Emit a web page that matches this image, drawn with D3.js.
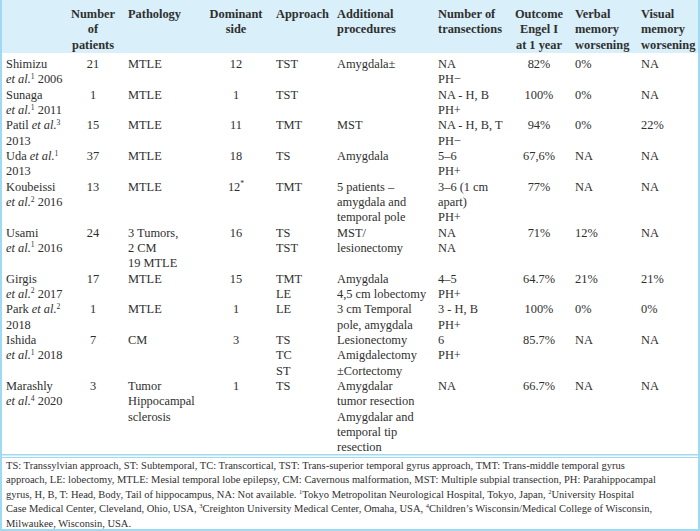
<!DOCTYPE html>
<html><head><meta charset="utf-8">
<script src="https://cdn.jsdelivr.net/npm/d3@7"></script>
<style>
html,body{margin:0;padding:0;background:#fff;}
svg{display:block;}
text{font-family:"Liberation Serif","Times New Roman",serif;fill:#2f2f2f;}
</style></head>
<body>
<svg id="chart" width="700" height="531"></svg>
<script>
// ---- data (markup: _italic_ , ^superscript^ , \n line break) ----
const headers = ["", "Number\nof\npatients", "Pathology", "Dominant\nside", "Approach",
  "Additional\nprocedures", "Number of\ntransections", "Outcome\nEngel I\nat 1 year",
  "Verbal\nmemory\nworsening", "Visual\nmemory\nworsening"];
const studies = ["Shimizu\n_et al._^1^ 2006", "Sunaga\n_et al._^1^ 2011", "Patil _et al._^3^\n2013",
  "Uda _et al._^1^\n2013", "Koubeissi\n_et al._^2^ 2016", "Usami\n_et al._^1^ 2016",
  "Girgis\n_et al._^2^ 2017", "Park _et al._^2^\n2018", "Ishida\n_et al._^1^ 2018", "Marashly\n_et al._^4^ 2020"];
const patients = ["21", "1", "15", "37", "13", "24", "17", "1", "7", "3"];
const pathology = ["MTLE", "MTLE", "MTLE", "MTLE", "MTLE", "3 Tumors,\n2 CM\n19 MTLE", "MTLE", "MTLE", "CM",
  "Tumor\nHippocampal\nsclerosis"];
const dominant = ["12", "1", "11", "18", "12^*^", "16", "15", "1", "3", "1"];
const approach = ["TST", "TST", "TMT", "TS", "TMT", "TS\nTST", "TMT\nLE", "LE", "TS\nTC\nST", "TS"];
const additional = ["Amygdala±", "", "MST", "Amygdala", "5 patients –\namygdala and\ntemporal pole",
  "MST/\nlesionectomy", "Amygdala\n4,5 cm lobectomy", "3 cm Temporal\npole, amygdala",
  "Lesionectomy\nAmigdalectomy\n±Cortectomy", "Amygdalar\ntumor resection\nAmygdalar and\ntemporal tip\nresection"];
const transections = ["NA\nPH−", "NA - H, B\nPH+", "NA - H, B, T\nPH−", "5–6\nPH+", "3–6 (1 cm\napart)\nPH+",
  "NA\nNA", "4–5\nPH+", "3 - H, B\nPH+", "6\nPH+", "NA"];
const engel = ["82%", "100%", "94%", "67,6%", "77%", "71%", "64.7%", "100%", "85.7%", "66.7%"];
const verbal = ["0%", "0%", "0%", "NA", "NA", "12%", "21%", "0%", "NA", "NA"];
const visual = ["NA", "NA", "22%", "NA", "NA", "NA", "21%", "0%", "NA", "NA"];
const footnote = [
  "TS: Transsylvian approach, ST: Subtemporal, TC: Transcortical, TST: Trans-superior temporal gyrus approach, TMT: Trans-middle temporal gyrus",
  "approach, LE: lobectomy, MTLE: Mesial temporal lobe epilepsy, CM: Cavernous malformation, MST: Multiple subpial transection, PH: Parahippocampal",
  "gyrus, H, B, T: Head, Body, Tail of hippocampus, NA: Not available. ^1^Tokyo Metropolitan Neurological Hospital, Tokyo, Japan, ^2^University Hospital",
  "Case Medical Center, Cleveland, Ohio, USA, ^3^Creighton University Medical Center, Omaha, USA, ^4^Children’s Wisconsin/Medical College of Wisconsin,",
  "Milwaukee, Wisconsin, USA."];

// ---- layout ----
const columns = [studies, patients, pathology, dominant, approach, additional, transections, engel, verbal, visual];
const colKeys = d3.range(columns.length);
const colX = d3.scaleOrdinal().domain(colKeys).range([6, 93, 128, 236, 276, 337, 438, 539, 575, 641]);
const colAnchor = d3.scaleOrdinal().domain(colKeys).range(["start","middle","start","middle","start","start","start","middle","start","start"]);

const FS = 12.4, LH = 15.33;
const svg = d3.select("#chart");
const W = 700, H = 531;
const BLUE = "#9fdaf2", HEAD = "#d9eff9";

// row line counts
const nRows = studies.length;
const rowLines = d3.range(nRows).map(r => d3.max(columns, c => c[r].split("\n").length));
const rowStart = [];
let acc = 0;
rowLines.forEach(n => { rowStart.push(acc); acc += n; });
const yLine = d3.scaleLinear().domain([0, 1]).range([68, 68 + LH]);
const yHead = d3.scaleLinear().domain([0, 1]).range([18, 33.3]);
const yFoot = d3.scaleLinear().domain([0, 1]).range([468.5, 483]);

// backgrounds & borders
svg.append("rect").attr("x", 0).attr("y", 0).attr("width", W).attr("height", 53).attr("fill", HEAD);
svg.append("rect").attr("x", 0).attr("y", 0).attr("width", 2).attr("height", H).attr("fill", BLUE);
svg.append("rect").attr("x", W - 2).attr("y", 0).attr("width", 2).attr("height", H).attr("fill", BLUE);
svg.append("rect").attr("x", 0).attr("y", 454).attr("width", W).attr("height", 1.5).attr("fill", BLUE);
svg.append("rect").attr("x", 0).attr("y", 457).attr("width", W).attr("height", 1).attr("fill", BLUE);
svg.append("rect").attr("x", 0).attr("y", H - 2).attr("width", W).attr("height", 2).attr("fill", BLUE);

function writeRich(sel, str, size) {
  const parts = str.split(/(_[^_]+_|\^[^^]+\^)/).filter(s => s.length);
  let up = false;
  parts.forEach(p => {
    const t = sel.append("tspan");
    if (p.startsWith("_")) { t.text(p.slice(1, -1)).attr("font-style", "italic"); if (up) { t.attr("dy", size * 0.36); up = false; } }
    else if (p.startsWith("^")) { t.text(p.slice(1, -1)).attr("font-size", size * 0.62).attr("dy", -size * 0.36); up = true; }
    else { t.text(p); if (up) { t.attr("dy", size * 0.36); up = false; } }
  });
}

// header
const hg = svg.append("g").attr("font-weight", "bold").attr("font-size", FS);
headers.forEach((h, c) => {
  h.split("\n").forEach((line, i) => {
    if (!line) return;
    hg.append("text").attr("x", colX(c)).attr("y", yHead(i)).attr("text-anchor", colAnchor(c)).text(line);
  });
});

// body
const bg = svg.append("g").attr("font-size", FS);
columns.forEach((col, c) => {
  col.forEach((cell, r) => {
    cell.split("\n").forEach((line, i) => {
      if (!line) return;
      const t = bg.append("text").attr("x", colX(c)).attr("y", yLine(rowStart[r] + i)).attr("text-anchor", colAnchor(c));
      writeRich(t, line, FS);
    });
  });
});

// footnote
const FFS = 10.5;
const fg = svg.append("g").attr("font-size", FFS);
footnote.forEach((line, i) => {
  const t = fg.append("text").attr("x", 6).attr("y", yFoot(i));
  writeRich(t, line, FFS);
});
</script>
</body></html>
